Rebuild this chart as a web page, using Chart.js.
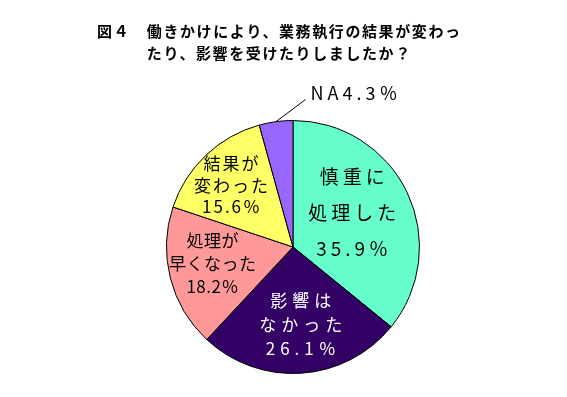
<!DOCTYPE html>
<html>
<head>
<meta charset="utf-8">
<script src="https://cdn.jsdelivr.net/npm/chart.js@4"></script>
<style>
  html, body { margin: 0; padding: 0; background: #fff; }
  #wrap { width: 567px; height: 397px; }
</style>
</head>
<body>
<div id="wrap"><canvas id="pieChart" width="567" height="397"></canvas></div>
<script>
// data
const titleLines = ['図４　働きかけにより、業務執行の結果が変わっ', 'たり、影響を受けたりしましたか？'];
const categories = ['慎重に処理した', '影響はなかった', '処理が早くなった', '結果が変わった', 'NA'];
const labelLines = [
    ['慎重に', '処理した', '35.9％'],
    ['影響は', 'なかった', '26.1％'],
    ['処理が', '早くなった', '18.2％'],
    ['結果が', '変わった', '15.6％'],
    ['NA4.3％']
];
const shares = [35.9, 26.1, 18.2, 15.6, 4.3];
const sliceColors = ['#66FFCC', '#330066', '#FF9999', '#FFFF66', '#9966FF'];

const FONT = '"Noto Sans CJK JP", "Noto Sans", sans-serif';

// text with letter spacing, centred without the trailing gap
function spacedText(ctx, text, x, y, spacing, align) {
    ctx.letterSpacing = spacing + 'px';
    if (align === 'center') x += spacing / 2;
    ctx.textAlign = align;
    ctx.fillText(text, x, y);
    ctx.letterSpacing = '0px';
}

// title: second line lines up under the text after "図４　"
const titlePlugin = {
    id: 'jpTitle',
    afterDraw(chart) {
        const ctx = chart.ctx;
        ctx.save();
        ctx.fillStyle = '#000';
        ctx.font = 'bold 15px ' + FONT;
        ctx.textBaseline = 'middle';
        ctx.letterSpacing = '1.6px';
        ctx.textAlign = 'left';
        ctx.fillText(titleLines[0], 97, 31);
        const indent = ctx.measureText('図４　').width;
        ctx.fillText(titleLines[1], 97 + indent, 53);
        ctx.restore();
    }
};

// labels inside slices, NA outside with a leader line
const sliceLabelPlugin = {
    id: 'sliceLabels',
    afterDatasetsDraw(chart, args, opts) {
        const ctx = chart.ctx;
        const meta = chart.getDatasetMeta(0);
        ctx.save();
        ctx.textBaseline = 'middle';
        meta.data.forEach((arc, i) => {
            const p = arc.getProps(['x', 'y', 'startAngle', 'endAngle', 'outerRadius'], true);
            const mid = (p.startAngle + p.endAngle) / 2;
            const lines = labelLines[i];
            ctx.font = opts.size[i] + 'px ' + FONT;
            if (lines.length === 1) {
                // outside label with leader
                const ax = p.x + Math.cos(mid) * p.outerRadius;
                const ay = p.y + Math.sin(mid) * p.outerRadius;
                const bx = p.x + Math.cos(mid + 0.22) * p.outerRadius * 1.17;
                const by = p.y + Math.sin(mid + 0.22) * p.outerRadius * 1.17;
                ctx.strokeStyle = '#000';
                ctx.lineWidth = 1;
                ctx.beginPath();
                ctx.moveTo(ax, ay);
                ctx.lineTo(bx, by);
                ctx.stroke();
                ctx.fillStyle = '#000';
                spacedText(ctx, lines[0], bx + 5, by - 6, opts.spacing[i], 'left');
                return;
            }
            const r = p.outerRadius * opts.radius[i];
            const a = mid + opts.turn[i];
            const cx = p.x + Math.cos(a) * r;
            const cy = p.y + Math.sin(a) * r;
            const gap = opts.gap[i];
            ctx.fillStyle = opts.color[i];
            lines.forEach((t, k) => {
                spacedText(ctx, t, cx, cy + (k - 1) * gap, opts.spacing[i], 'center');
            });
        });
        ctx.restore();
    }
};

new Chart(document.getElementById('pieChart'), {
    type: 'pie',
    data: {
        labels: categories,
        datasets: [{
            data: shares,
            backgroundColor: sliceColors,
            borderColor: '#000',
            borderWidth: 1
        }]
    },
    plugins: [titlePlugin, sliceLabelPlugin],
    options: {
        responsive: false,
        animation: false,
        layout: { padding: { top: 119, bottom: 22, left: 166, right: 147 } },
        plugins: {
            legend: { display: false },
            tooltip: { enabled: false },
            title: { display: false },
            sliceLabels: {
                radius: [0.54, 0.62, 0.65, 0.69],
                turn: [-0.08, -0.03, 0.05, -0.03],
                gap: [36, 24, 23, 21.5],
                size: [19, 17, 17, 17, 18],
                spacing: [4, 5, 0.5, 2, 4],
                color: ['#000', '#fff', '#000', '#000', '#000']
            }
        }
    }
});
</script>
</body>
</html>
